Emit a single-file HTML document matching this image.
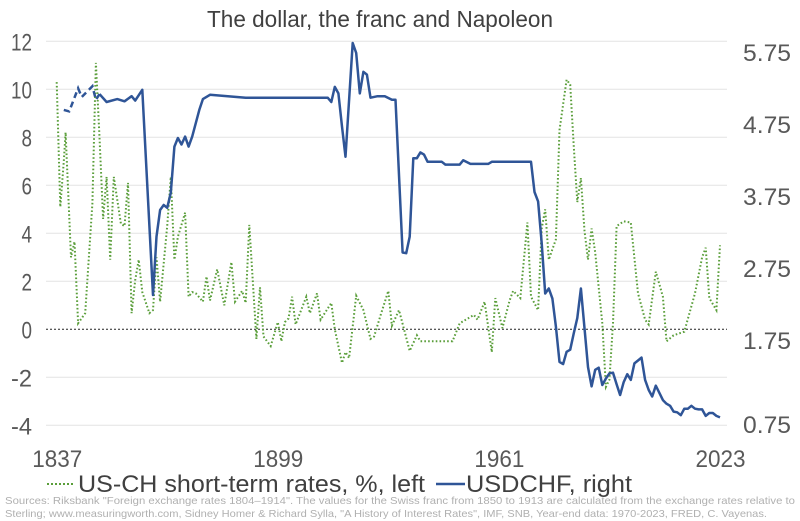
<!DOCTYPE html>
<html><head><meta charset="utf-8"><style>
html,body{margin:0;padding:0;background:#fff;}
svg{display:block;font-family:"Liberation Sans",sans-serif;}
</style></head><body>
<svg id="chart" width="800" height="521" viewBox="0 0 800 521" xmlns="http://www.w3.org/2000/svg">
<text x="380" y="27" text-anchor="middle" font-size="23" fill="#404040" textLength="346" lengthAdjust="spacingAndGlyphs">The dollar, the franc and Napoleon</text>
<g id="grid"></g>
<g id="laxis"></g>
<g id="raxis"></g>
<g id="xaxis"></g>
<g id="series"></g>
<g>
<line x1="47" y1="484" x2="75" y2="484" stroke="#5a9e3a" stroke-width="2" stroke-dasharray="2,2"/>
<text x="78" y="492" font-size="24" fill="#404040" textLength="347" lengthAdjust="spacingAndGlyphs">US-CH short-term rates, %, left</text>
<line x1="436" y1="484" x2="465" y2="484" stroke="#2f5597" stroke-width="2.5"/>
<text x="466" y="492" font-size="24" fill="#404040" textLength="166" lengthAdjust="spacingAndGlyphs">USDCHF, right</text>
</g>
<text x="5" y="504" font-size="10.5" fill="#b0b0b0" textLength="790" lengthAdjust="spacingAndGlyphs">Sources: Riksbank "Foreign exchange rates 1804–1914". The values for the Swiss franc from 1850 to 1913 are calculated from the exchange rates relative to</text>
<text x="5" y="517" font-size="10.5" fill="#b0b0b0" textLength="762" lengthAdjust="spacingAndGlyphs">Sterling; www.measuringworth.com, Sidney Homer &amp; Richard Sylla, "A History of Interest Rates", IMF, SNB, Year-end data: 1970-2023, FRED, C. Vayenas.</text>
</svg>
<script>
const leftTicks=[12,10,8,6,4,2,0,-2,-4];
const rightTicks=["5.75","4.75","3.75","2.75","1.75","0.75"];
const xTicks=[1837,1899,1961,2023];
const rateYears=[1837,1838,1839,1839.5,1841,1842,1843,1845,1847,1848,1849,1850,1851,1852,1853,1855,1856,1857,1858,1859,1860,1861,1863,1864,1865,1866,1868,1869,1870,1871,1873,1874,1875,1876,1878,1879,1880,1882,1884,1886,1887,1889,1890,1891,1893,1894,1895,1897,1899,1900,1901,1902,1903,1904,1907,1908,1910,1911,1914,1915,1917,1918,1919,1921,1923,1925,1926,1928,1930,1931,1933,1936,1938,1939,1948,1950,1954,1955,1957,1959,1960,1962,1964,1965,1967,1969,1970,1972,1973,1974,1975,1977,1978,1980,1981,1982,1983,1984,1985,1986,1987,1988,1990,1991,1992,1993,1994,1996,1998,2000,2002,2003,2005,2007,2008,2010,2013,2016,2018,2019,2020,2022,2023];
const rateValues=[10.3,5.1,7.0,8.2,3.0,3.65,0.25,0.67,5.25,11.1,8.0,4.6,6.35,2.9,6.35,4.4,4.3,6.1,0.67,2.05,2.9,1.55,0.67,0.8,3.0,1.15,4.3,6.35,2.9,3.86,4.86,1.36,1.55,1.5,1.15,2.2,1.2,2.5,1.0,2.8,1.15,1.6,1.1,4.35,-0.4,1.75,-0.3,-0.7,0.3,-0.5,0.3,0.45,1.36,0.2,1.36,0.67,1.5,0.4,1.1,0,-1.4,-0.95,-1.2,1.4,0.8,-0.4,-0.3,0.67,1.6,0.15,0.8,-0.9,-0.25,-0.5,-0.5,0.25,0.6,0.4,1.15,-0.95,1.3,0.05,1.2,1.6,1.3,4.45,1.36,0.8,4.2,5.0,2.9,3.75,8.3,10.4,10.2,7.6,5.3,6.3,4.1,2.9,4.2,3.2,0.25,-2.4,-2.1,0.25,4.3,4.5,4.45,1.5,0.4,0.2,2.4,1.36,-0.5,-0.25,-0.1,1.5,3.0,3.4,1.3,0.8,3.5];
const fxYears=[1839,1840.5,1843,1844,1847,1848,1849,1851,1854,1856,1858,1859,1861,1864,1865,1866,1867,1868,1869,1870,1871,1872,1873,1874,1875,1877,1878,1880,1890,1900,1913,1914,1915,1916,1917,1918,1920,1921,1922,1923,1924,1925,1927,1929,1931,1932,1934,1935,1936,1937,1938,1939,1940,1941,1945,1946,1950,1951,1953,1958,1959,1970,1971,1972,1973,1974,1975,1976,1977,1978,1979,1980,1981,1982,1983,1984,1985,1986,1987,1988,1989,1990,1991,1992,1993,1994,1995,1996,1997,1998,1999,2000,2001,2002,2003,2004,2005,2006,2007,2008,2009,2010,2011,2012,2013,2014,2015,2016,2017,2018,2019,2020,2021,2022,2023];
const fxValues=[5.14,5.12,5.44,5.32,5.47,5.28,5.36,5.25,5.29,5.26,5.33,5.27,5.42,2.57,3.38,3.75,3.82,3.78,3.99,4.63,4.75,4.66,4.77,4.63,4.77,5.14,5.29,5.35,5.31,5.31,5.31,5.25,5.46,5.37,4.91,4.49,6.07,5.93,5.37,5.67,5.63,5.31,5.33,5.33,5.28,5.28,3.16,3.15,3.38,4.47,4.47,4.55,4.52,4.42,4.42,4.38,4.38,4.44,4.39,4.39,4.42,4.42,4.0,3.87,3.29,2.59,2.66,2.52,2.13,1.64,1.61,1.78,1.81,2.04,2.25,2.66,2.11,1.57,1.30,1.53,1.56,1.32,1.41,1.48,1.49,1.33,1.18,1.36,1.47,1.39,1.62,1.66,1.70,1.39,1.25,1.16,1.31,1.21,1.11,1.06,1.03,0.95,0.94,0.90,0.99,0.99,1.03,0.99,0.98,0.98,0.89,0.93,0.93,0.89,0.87];
const dashedUntil=1849;

const NS="http://www.w3.org/2000/svg";
const X=yr=>56.7+(yr-1837)*3.566;
const YL=v=>329.3-v*24.0;
const YR=v=>426-(v-0.75)*72;
function mk(tag,attrs,parent){const e=document.createElementNS(NS,tag);for(const k in attrs)e.setAttribute(k,attrs[k]);parent.appendChild(e);return e;}
const grid=document.getElementById('grid'),la=document.getElementById('laxis'),ra=document.getElementById('raxis'),xa=document.getElementById('xaxis'),ser=document.getElementById('series');
leftTicks.forEach((t,i)=>{
  const y=YL(t);
  if(t!==0){const g=mk('line',{x1:46,x2:727,y1:y,y2:y,stroke:'#e3e3e3','stroke-width':1},grid);
  
  }
  const s=String(t);
  const tx=mk('text',{x:32,y:y+9,'text-anchor':'end','font-size':24,fill:'#595959',textLength:s.length*10.5,lengthAdjust:'spacingAndGlyphs'},la);tx.textContent=s;
  
  
});
const rPos=[52,124,196,268,340,424];
rightTicks.forEach((t,i)=>{
  const tx=mk('text',{x:791,y:rPos[i]+9,'text-anchor':'end','font-size':24,fill:'#595959',textLength:48,lengthAdjust:'spacingAndGlyphs'},ra);tx.textContent=t;
  
  
});
xTicks.forEach(t=>{
  const tx=mk('text',{x:X(t)+0.5,y:467,'text-anchor':'middle','font-size':24,fill:'#595959',textLength:50,lengthAdjust:'spacingAndGlyphs'},xa);tx.textContent=t;
  
  
});
const zl=mk('line',{x1:46,x2:727,y1:YL(0),y2:YL(0),stroke:'#222','stroke-width':1,'stroke-dasharray':'2,2'},ser);


const rp=rateYears.map((y,i)=>X(y).toFixed(1)+','+YL(rateValues[i]).toFixed(1)).join(' ');
const rl=mk('polyline',{points:rp,fill:'none',stroke:'#5a9e3a','stroke-width':2,'stroke-dasharray':'1.6,2.2'},ser);


const dPts=[],sPts=[];
fxYears.forEach((y,i)=>{const p=X(y).toFixed(1)+','+YR(fxValues[i]).toFixed(1);if(y<=dashedUntil)dPts.push(p);if(y>=dashedUntil-1)sPts.push(p);});
const dl=mk('polyline',{points:dPts.join(' '),fill:'none',stroke:'#2f5597','stroke-width':2.5,'stroke-dasharray':'6,4'},ser);


const sl=mk('polyline',{points:sPts.slice(1).join(' '),fill:'none',stroke:'#2f5597','stroke-width':2.5,'stroke-linejoin':'round'},ser);


</script>
</body></html>
